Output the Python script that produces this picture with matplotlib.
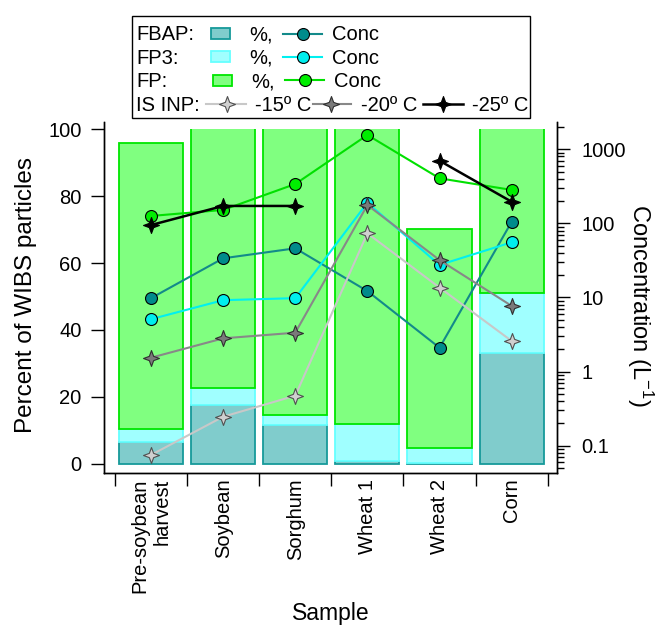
import numpy as np
import matplotlib
matplotlib.use('Agg')
import matplotlib.pyplot as plt
from matplotlib.path import Path
from matplotlib.patches import Rectangle
from matplotlib.lines import Line2D
import matplotlib.transforms as mtransforms
from matplotlib.ticker import FixedLocator, NullFormatter, FuncFormatter, LogLocator

plt.rcParams['font.family'] = ['Liberation Sans', 'DejaVu Sans']
plt.rcParams['mathtext.fontset'] = 'custom'
plt.rcParams['mathtext.rm'] = 'Liberation Sans'
plt.rcParams['mathtext.default'] = 'regular'

# ---------------- data ----------------
samples = ['Pre-soybean\nharvest', 'Soybean', 'Sorghum', 'Wheat 1', 'Wheat 2', 'Corn']
# stacked percentage segments (% of WIBS particles)
fbap_pct = [6.4, 17.5, 11.4, 0.7, 0.3, 33.1]
fp3_pct = [3.8, 5.2, 3.1, 11.2, 4.4, 18.0]
fp_pct = [85.6, 80.0, 88.0, 90.0, 65.6, 60.0]   # tops beyond 100 are clipped
# concentrations (L^-1)
fbap_conc = [9.8, 33.8, 46.1, 12.2, 2.1, 105]
fp3_conc = [5.1, 9.2, 9.8, 190, 27.5, 55.6]
fp_conc = [126, 152, 340, 1560, 406, 283]
inp15 = [0.075, 0.246, 0.473, 73.5, 13.6, 2.59]
inp20 = [1.54, 2.81, 3.35, 177, 32, 7.7]
inp25 = [95, 172, 172, np.nan, 701, 196]
left_ticks = [0, 20, 40, 60, 80, 100]
right_ticks = [0.1, 1, 10, 100, 1000]

# ---------------- styles ----------------
c_fbap_fill, c_fbap_edge, c_fbap_line, c_fbap_mk = '#80cccc', '#169a9a', '#138a8a', '#008b8b'
c_fp3_fill, c_fp3_edge, c_fp3_line, c_fp3_mk = '#a0ffff', '#66ffff', '#00f0f0', '#00eeee'
c_fp_fill, c_fp_edge, c_fp_line, c_fp_mk = '#80ff80', '#00e600', '#00e000', '#00ee00'
c15_line, c15_mk = '#c8c8c8', '#d0d0d0'
c20_line, c20_mk = '#888888', '#7a7a7a'
c25_line, c25_mk = '#000000', '#000000'

# 4-pointed star marker
ang = np.deg2rad(90 + 45 * np.arange(8))
rad = np.where(np.arange(8) % 2 == 0, 1.0, 0.38)
star_verts = np.column_stack([rad * np.cos(ang), rad * np.sin(ang)])
star_verts = np.vstack([star_verts, star_verts[:1]])
star = Path(star_verts, closed=True)
star_ms = 11.5

W, H = 657, 625
fig = plt.figure(figsize=(W / 100, H / 100), dpi=100)
x0, x1, ytop, ybot = 104.3, 557.3, 121.7, 473.3
ax = fig.add_axes([x0 / W, 1 - ybot / H, (x1 - x0) / W, (ybot - ytop) / H])
ax2 = ax.twinx()

x = np.arange(len(samples))
bw = 0.89
fbap_pct_a = np.array(fbap_pct)
fp3_pct_a = np.array(fp3_pct)
clip_tr = mtransforms.blended_transform_factory(ax.transAxes, ax.transData)
clip_rect = Rectangle((0, -10), 1, 110, transform=clip_tr)
bars = []
bars += ax.bar(x, fbap_pct, bw, color=c_fbap_fill, edgecolor=c_fbap_edge, linewidth=1.3)
bars += ax.bar(x, fp3_pct, bw, bottom=fbap_pct_a, color=c_fp3_fill, edgecolor=c_fp3_edge, linewidth=1.3)
bars += ax.bar(x, fp_pct, bw, bottom=fbap_pct_a + fp3_pct_a, color=c_fp_fill, edgecolor=c_fp_edge, linewidth=1.3)
for b in bars:
    b.set_clip_path(clip_rect)

ax.set_xlim(-0.648, 5.633)
ax.set_ylim(-2.93, 102.3)
ax.set_yticks(left_ticks)
ax.set_xticks(np.arange(len(samples) + 1) - 0.5)
ax.set_xticklabels([])
ax.set_xticks(x, labels=samples, minor=True, rotation=90, ha='center', va='top',
              multialignment='right')
ax.tick_params(axis='x', which='major', length=9.4, width=1, direction='out')
ax.tick_params(axis='x', which='minor', length=0, pad=4, labelsize=14.5)
ax.tick_params(axis='y', which='major', length=9.4, width=1, direction='out', pad=7, labelsize=14.5)

ckw = dict(marker='o', markersize=8.6, markeredgecolor='black', markeredgewidth=0.8, linewidth=1.5)
ax2.plot(x, fbap_conc, color=c_fbap_line, markerfacecolor=c_fbap_mk, **ckw)
ax2.plot(x, fp3_conc, color=c_fp3_line, markerfacecolor=c_fp3_mk, **ckw)
ax2.plot(x, fp_conc, color=c_fp_line, markerfacecolor=c_fp_mk, **ckw)
skw = dict(marker=star, markersize=star_ms, markeredgewidth=0.8, linewidth=1.5)
ax2.plot(x, inp15, color=c15_line, markerfacecolor=c15_mk, markeredgecolor='#505050', **skw)
ax2.plot(x, inp20, color=c20_line, markerfacecolor=c20_mk, markeredgecolor='#303030', **skw)
ax2.plot(x, inp25, color=c25_line, markerfacecolor=c25_mk, markeredgecolor='black', linewidth=1.8,
         marker=star, markersize=star_ms, markeredgewidth=0.8)

ax2.set_yscale('log')
ax2.set_ylim(0.0424, 2358)
ax2.yaxis.set_major_locator(FixedLocator(right_ticks))
ax2.yaxis.set_major_formatter(FuncFormatter(lambda v, p: '%g' % v))
ax2.yaxis.set_minor_locator(LogLocator(base=10, subs=np.arange(2, 10)))
ax2.yaxis.set_minor_formatter(NullFormatter())
ax2.tick_params(axis='y', which='major', length=9.4, width=1, direction='out', pad=8, labelsize=14.5)
ax2.tick_params(axis='y', which='minor', length=5, width=1, direction='out')

for a in (ax, ax2):
    a.spines['top'].set_visible(False)
    for s in a.spines.values():
        s.set_linewidth(1.0)

ax.set_ylabel('Percent of WIBS particles', fontsize=17.5, va='center')
ax.yaxis.set_label_coords(-0.172, 0.507)
ax2.set_ylabel('Concentration (L$^{-1}$)', fontsize=17, rotation=270, va='center')
ax2.yaxis.set_label_coords(1.183, 0.476)
ax.set_xlabel('Sample', fontsize=16.5, va='center')
ax.xaxis.set_label_coords(0.5, -0.40)

# ---------------- legend (drawn in pixel coords) ----------------
lg = fig.add_axes([0, 0, 1, 1], zorder=5)
lg.set_xlim(0, W)
lg.set_ylim(H, 0)
lg.axis('off')
lg.add_patch(Rectangle((131.7, 15.7), 398.3, 102.6, fill=False, edgecolor='black', linewidth=1.0))
fs = 14.5
rows = [40.5, 63.7, 87.2, 111.0]
entries = [('FBAP:', c_fbap_fill, c_fbap_edge, c_fbap_line, c_fbap_mk, 0),
           ('FP3:', c_fp3_fill, c_fp3_edge, c_fp3_line, c_fp3_mk, 0),
           ('FP:', c_fp_fill, c_fp_edge, c_fp_line, c_fp_mk, 2)]
for (lab, fc, ec, lc, mc, dx), yb in zip(entries, rows[:3]):
    yc = yb - 7
    lg.text(136, yb, lab, fontsize=fs, va='baseline', ha='left')
    lg.add_patch(Rectangle((210.7 + dx, yc - 5.5), 19.3, 11, facecolor=fc, edgecolor=ec, linewidth=1.3))
    lg.text(249.3 + dx, yb, '%,', fontsize=fs, va='baseline', ha='left')
    lg.add_line(Line2D([282.7 + dx, 322.3 + dx], [yc, yc], color=lc, linewidth=1.5))
    lg.add_line(Line2D([302.5 + dx], [yc], marker='o', markersize=8.6, markerfacecolor=mc,
                       markeredgecolor='black', markeredgewidth=0.8, linestyle='none'))
    lg.text(332.3 + dx, yb, 'Conc', fontsize=fs, va='baseline', ha='left')

yb = rows[3]
yc = yb - 7
lg.text(136, yb, 'IS INP:', fontsize=fs, va='baseline', ha='left')
inp_leg = [(206, 246, 226.7, 255, '-15º C', c15_line, c15_mk, '#505050', 1.5),
           (312.7, 351, 330.7, 360.7, '-20º C', c20_line, c20_mk, '#303030', 1.5),
           (422.7, 463.3, 442.7, 472.0, '-25º C', c25_line, c25_mk, 'black', 1.8)]
for xa, xb, xm, xt, t, lc, mc, me, lw in inp_leg:
    lg.add_line(Line2D([xa, xb], [yc, yc], color=lc, linewidth=lw))
    lg.add_line(Line2D([xm], [yc], marker=star, markersize=star_ms, markerfacecolor=mc,
                       markeredgecolor=me, markeredgewidth=0.8, linestyle='none'))
    lg.text(xt, yb, t, fontsize=fs, va='baseline', ha='left')

fig.savefig('out.png', dpi=100)
